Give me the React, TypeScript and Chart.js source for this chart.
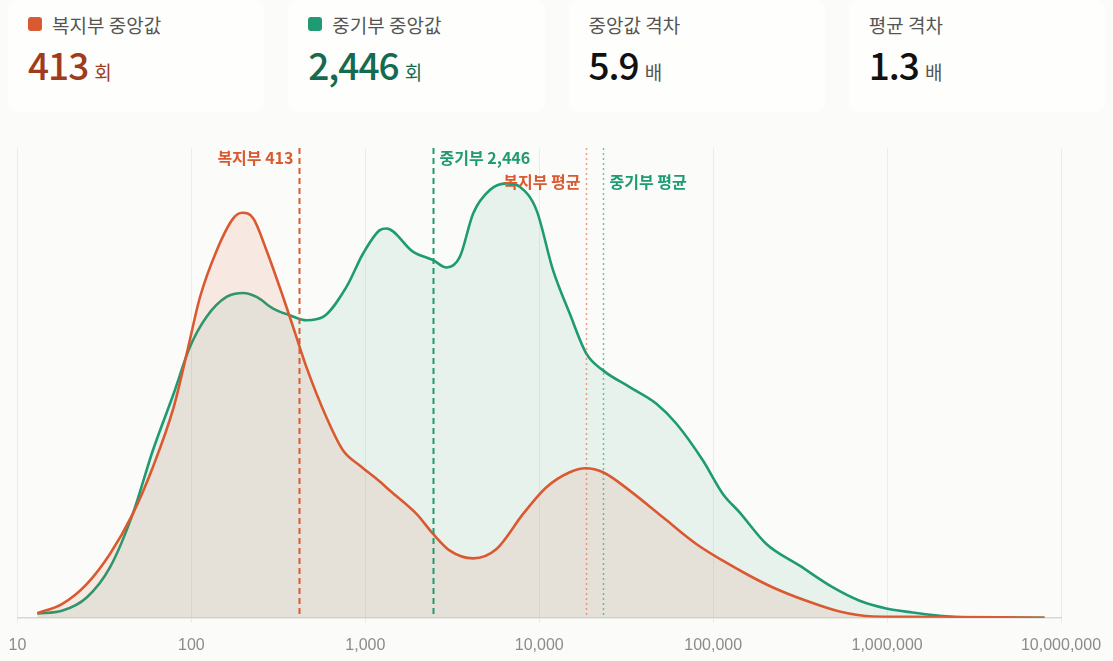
import React, { useEffect, useRef } from "react";
import { Chart, registerables } from "chart.js";

Chart.register(...registerables);

// ---- data ----
const welfareX = [13, 18, 25, 34, 46, 60, 79, 94, 112, 140, 174, 196, 227, 270, 337, 385, 459, 598, 745, 929, 1211, 1383, 1968, 2454, 3060, 4169, 5680, 8077, 10990, 14970, 18490, 23260, 33120, 51450, 79980, 113700, 161900, 220700, 343400, 533400, 828600, 1288000, 8040000];
const welfareY = [4.6, 13.7, 33.7, 63.7, 103.7, 150.3, 210, 263.7, 320, 367, 398.7, 404.3, 398.7, 367, 320, 290, 250, 200, 167, 152, 136, 127, 103.7, 83.7, 67, 59.3, 68.7, 103.7, 130.3, 145.3, 149.3, 145.3, 127, 100.3, 73.7, 57, 42, 30.3, 17, 6.3, 1.3, 1, 0];

const smeX = [13, 18, 25, 34, 46, 60, 79, 98, 122, 159, 199, 237, 295, 368, 459, 572, 779, 971, 1211, 1324, 1885, 2454, 2930, 3494, 4169, 5199, 6486, 7730, 9640, 12000, 14970, 18660, 23260, 33120, 47170, 61490, 87340, 113700, 141900, 202300, 314300, 488500, 695300, 989000, 1406000, 2000000, 3097000, 8040000];
const smeY = [4.3, 7, 20.3, 50.3, 103.7, 167, 223.7, 270.3, 300.3, 320.3, 324.3, 320.3, 308.7, 302, 297, 300.3, 330.3, 363.7, 387, 388.7, 365.3, 357, 349.7, 360.3, 403.7, 427, 433.7, 430.3, 407, 347, 303.7, 263.7, 247, 230.3, 213.7, 193.7, 157, 123.7, 105.3, 73.7, 52, 30.3, 17, 9.3, 5.3, 2, 0.3, 0];

const tickValues = [10, 100, 1000, 10000, 100000, 1000000, 10000000];

const welfareMedian = 413;
const smeMedian = 2446;
const welfareMean = 18500;
const smeMean = 23300;

const seriesNames = ["복지부", "중기부"];

const cards = [
  { label: "복지부 중앙값", value: "413", unit: "회", swatch: "#d95a30", valueColor: "#9e3c1d" },
  { label: "중기부 중앙값", value: "2,446", unit: "회", swatch: "#1e9b72", valueColor: "#166a50" },
  { label: "중앙값 격차", value: "5.9", unit: "배", swatch: null, valueColor: "#111111" },
  { label: "평균 격차", value: "1.3", unit: "배", swatch: null, valueColor: "#111111" },
];

const ORANGE = "#d95a30";
const GREEN = "#1e9b72";
const FONT = '"Noto Sans CJK KR", "Noto Sans", sans-serif';
const VALUE_FONT = '"Noto Sans CJK KR Medium", "Noto Sans CJK KR", "Noto Sans", sans-serif';
const TICK_FONT = '"Liberation Sans", Arial, sans-serif';

const toPoints = (xs: number[], ys: number[]) => xs.map((x, i) => ({ x, y: ys[i] }));

const markerPlugin = {
  id: "markers",
  afterDatasetsDraw(chart: any) {
    const { ctx, chartArea, scales } = chart;
    const xs = scales.x;
    const top = chartArea.top;
    const bottom = chartArea.bottom;
    const drawLine = (v: number, color: string, dash: number[], width: number) => {
      const px = Math.round(xs.getPixelForValue(v)) + 0.5;
      ctx.save();
      ctx.strokeStyle = color;
      ctx.lineWidth = width;
      ctx.setLineDash(dash);
      ctx.beginPath();
      ctx.moveTo(px, top);
      ctx.lineTo(px, bottom);
      ctx.stroke();
      ctx.restore();
      return px;
    };
    const label = (text: string, x: number, y: number, color: string, align: CanvasTextAlign) => {
      ctx.save();
      ctx.font = `600 16px ${FONT}`;
      ctx.fillStyle = color;
      ctx.textAlign = align;
      ctx.textBaseline = "middle";
      ctx.fillText(text, x, y);
      ctx.restore();
    };
    const m1 = drawLine(welfareMean, "rgba(217,90,48,0.55)", [2, 3], 1.5);
    const m2 = drawLine(smeMean, "rgba(30,155,114,0.6)", [2, 3], 1.5);
    const d1 = drawLine(welfareMedian, ORANGE, [6, 4], 2);
    const d2 = drawLine(smeMedian, GREEN, [6, 4], 2);
    label(`${seriesNames[0]} ${welfareMedian.toLocaleString("en-US")}`, d1 - 6, top + 10, ORANGE, "right");
    label(`${seriesNames[1]} ${smeMedian.toLocaleString("en-US")}`, d2 + 6, top + 10, GREEN, "left");
    label(`${seriesNames[0]} 평균`, m1 - 6, top + 34, ORANGE, "right");
    label(`${seriesNames[1]} 평균`, m2 + 6, top + 34, GREEN, "left");
  },
};

function DensityChart() {
  const ref = useRef<HTMLCanvasElement | null>(null);
  useEffect(() => {
    if (!ref.current) return;
    const chart = new Chart(ref.current, {
      type: "line",
      data: {
        datasets: [
          {
            label: seriesNames[0],
            data: toPoints(welfareX, welfareY),
            borderColor: ORANGE,
            backgroundColor: "rgba(217,90,48,0.11)",
            borderWidth: 2.6,
            fill: "origin",
            pointRadius: 0,
            cubicInterpolationMode: "monotone",
            order: 0,
          },
          {
            label: seriesNames[1],
            data: toPoints(smeX, smeY),
            borderColor: GREEN,
            backgroundColor: "rgba(30,155,114,0.085)",
            borderWidth: 2.6,
            fill: "origin",
            pointRadius: 0,
            cubicInterpolationMode: "monotone",
            order: 1,
          },
        ],
      },
      options: {
        animation: false,
        responsive: false,
        maintainAspectRatio: false,
        layout: { padding: { left: 17.5, right: 52, top: 11, bottom: 0 } },
        plugins: { legend: { display: false }, tooltip: { enabled: false } },
        scales: {
          x: {
            type: "logarithmic",
            min: 10,
            max: 10000000,
            afterBuildTicks: (scale: any) => {
              scale.ticks = tickValues.map((v) => ({ value: v }));
            },
            afterFit: (scale: any) => {
              scale.paddingLeft = 0;
              scale.paddingRight = 0;
            },
            ticks: {
              autoSkip: false,
              maxRotation: 0,
              color: "#8c8b87",
              font: { family: TICK_FONT, size: 16 },
              padding: 13,
              callback: (v: any) => Number(v).toLocaleString("en-US"),
            },
            grid: { color: "#ecebe8", lineWidth: 1, tickLength: 5, drawTicks: true },
            border: { color: "#d9d7d3", width: 1.5 },
          },
          y: {
            display: false,
            min: 0,
            max: 469,
          },
        },
      },
      plugins: [markerPlugin],
    });
    return () => chart.destroy();
  }, []);
  return <canvas ref={ref} width={1113} height={531} style={{ display: "block" }} />;
}

export default function App() {
  return (
    <div
      style={{
        position: "fixed",
        left: 0,
        top: 0,
        width: 1113,
        height: 661,
        overflow: "hidden",
        background: "#fbfbf9",
        fontFamily: FONT,
      }}
    >
      <div
        style={{
          position: "absolute",
          left: 8,
          top: 0,
          width: 1097,
          height: 112,
          display: "grid",
          gridTemplateColumns: "repeat(4, 1fr)",
          gap: 24,
        }}
      >
        {cards.map((c, i) => (
          <div
            key={i}
            style={{
              background: "#fefefd",
              borderRadius: 10,
              padding: "11px 20px 0 20px",
              boxSizing: "border-box",
            }}
          >
            <div style={{ display: "flex", alignItems: "center", height: 26, fontSize: 19, color: "#555552" }}>
              {c.swatch && (
                <span
                  style={{
                    display: "inline-block",
                    width: 14,
                    height: 14,
                    borderRadius: 3,
                    background: c.swatch,
                    marginRight: 10,
                  }}
                />
              )}
              <span>{c.label}</span>
            </div>
            <div style={{ marginTop: 5, display: "flex", alignItems: "baseline" }}>
              <span
                style={{
                  fontFamily: VALUE_FONT,
                  fontSize: 37,
                  fontWeight: 500,
                  color: c.valueColor,
                  letterSpacing: -1,
                  lineHeight: "44px",
                }}
              >
                {c.value}
              </span>
              <span style={{ fontSize: 19, color: i < 2 ? c.valueColor : "#555552", marginLeft: 6 }}>{c.unit}</span>
            </div>
          </div>
        ))}
      </div>
      <div style={{ position: "absolute", left: 0, top: 137 }}>
        <DensityChart />
      </div>
    </div>
  );
}
